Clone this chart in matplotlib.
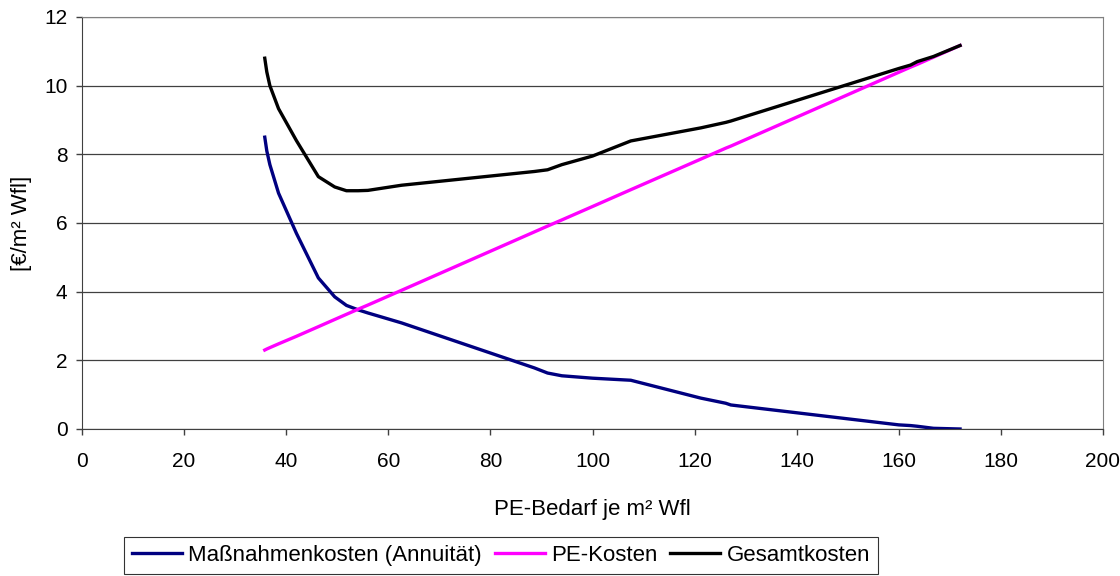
import matplotlib.pyplot as plt

plt.rcParams['font.family'] = ['Liberation Sans', 'DejaVu Sans']

# PE-Bedarf je m² Wfl
pe_bedarf = [35.8, 36.2, 36.8, 38.5, 42, 46.3, 49.5, 51.8, 54.1, 56, 62.6, 88.6,
             91.2, 94, 100, 107.5, 121.2, 126.1, 127.1, 160, 162.3, 163.6, 166.8, 172]

massnahmen = [8.50, 8.10, 7.70, 6.87, 5.70, 4.40, 3.85, 3.60, 3.47, 3.38, 3.09, 1.78,
              1.63, 1.55, 1.48, 1.42, 0.90, 0.75, 0.70, 0.12, 0.10, 0.08, 0.02, 0.0]

pe_kosten = [2.30, 2.33, 2.37, 2.48, 2.70, 2.98, 3.19, 3.34, 3.49, 3.61, 4.04, 5.74,
             5.91, 6.09, 6.48, 6.97, 7.86, 8.18, 8.24, 10.39, 10.54, 10.62, 10.83, 11.17]

gesamt = [10.80, 10.40, 10.00, 9.33, 8.40, 7.35, 7.05, 6.94, 6.94, 6.95, 7.10, 7.50,
          7.55, 7.70, 7.95, 8.39, 8.77, 8.93, 8.97, 10.50, 10.60, 10.70, 10.85, 11.17]

fig = plt.figure(figsize=(11.2, 5.76), dpi=100)
ax = fig.add_axes([82/1120, 1-429/576, (1103-82)/1120, (429-17)/576])

l1, = ax.plot(pe_bedarf, massnahmen, color='#000080', lw=2.4, label='Maßnahmenkosten (Annuität)')
l2, = ax.plot(pe_bedarf, pe_kosten, color='#ff00ff', lw=2.4, label='PE-Kosten')
l3, = ax.plot(pe_bedarf, gesamt, color='black', lw=2.4, label='Gesamtkosten')

ax.set_xlim(0, 200)
ax.set_ylim(0, 12)
ax.set_xticks(range(0, 201, 20))
ax.set_yticks(range(0, 13, 2))
ax.yaxis.grid(True, color='#404040', lw=0.9)
ax.set_axisbelow(True)
ax.tick_params(labelsize=15, length=4.5, width=1, color='#404040')
ax.tick_params(axis='x', pad=12)
ax.tick_params(axis='y', pad=6)
for s in ['top', 'right']:
    ax.spines[s].set_color('#808080')
for s in ['left', 'bottom']:
    ax.spines[s].set_color('#404040')

ax.set_xlabel('PE-Bedarf je m² Wfl', fontsize=16, labelpad=20)
ax.set_ylabel('[€/m² Wfl]', fontsize=16, labelpad=9)

leg = fig.legend(handles=[l1, l2, l3], loc='upper left', bbox_to_anchor=(124/1120, 1-537/576),
                 ncol=3, fontsize=16, frameon=True, fancybox=False, handlelength=2.25,
                 handletextpad=0.27, columnspacing=0.6, borderpad=0.35, borderaxespad=0)
leg.get_frame().set_edgecolor('black')
leg.get_frame().set_linewidth(0.8)

fig.savefig('out.png', dpi=100)
